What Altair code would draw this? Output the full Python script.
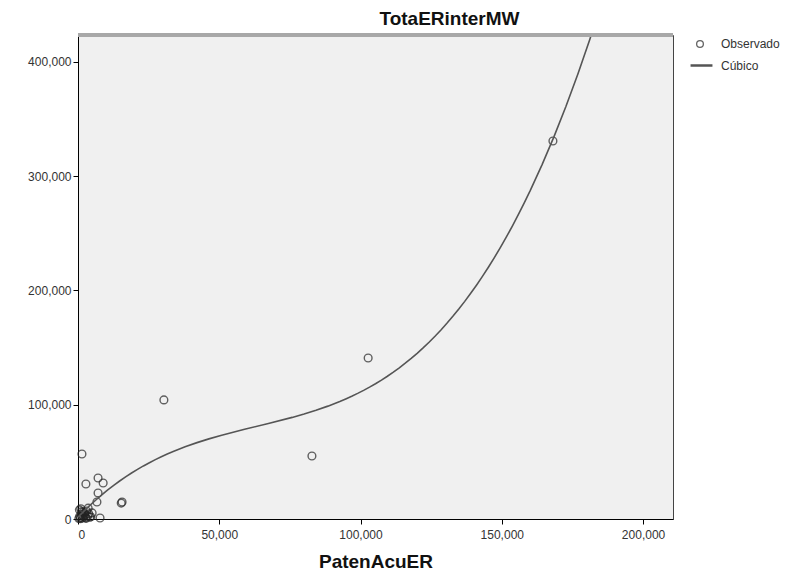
import altair as alt
import pandas as pd

# Observed values (PatenAcuER, TotaERinterMW)
pat_x = [168100, 102700, 82800, 30400, 1400, 15600, 15300, 2800, 7100, 8900,
         7100, 6700, 5000, 7800,
         300, 600, 900, 1200, 1500, 1800, 2100, 2400, 2700, 3000, 3400,
         3800, 4200, 500, 1000, 1600, 2200, 2900, 3600, 800, 1300, 4500]
tot_y = [330800, 140900, 55100, 104200, 56900, 14900, 13900, 30600, 35900, 31500,
         22800, 14900, 5300, 900,
         500, 2500, 1200, 4000, 800, 6000, 2000, 3500, 1000, 7000, 2500,
         4500, 1500, 8000, 9000, 3000, 5000, 600, 9500, 300, 6500, 2000]

df = pd.DataFrame({"x": pat_x, "y": tot_y})
df["serie"] = "Observado"

x_ticks = [0, 50000, 100000, 150000, 200000]
y_ticks = [0, 100000, 200000, 300000, 400000]
x_dom = [0, 210600]
y_dom = [0, 423600]

FONT = "Liberation Sans"

xs = alt.Scale(domain=x_dom, nice=False, zero=False)
ys = alt.Scale(domain=y_dom, nice=False, zero=False)

x_axis = alt.Axis(values=x_ticks, format=",.0f", title="PatenAcuER", grid=False,
                  domainColor="#000", tickColor="#000", tickSize=5,
                  labelFont=FONT, labelFontSize=12, labelColor="#333",
                  labelPadding=5, titleFont=FONT, titleFontSize=19,
                  titleFontWeight="bold", titleColor="#111", titlePadding=12)
y_axis = alt.Axis(values=y_ticks, format=",.0f", title=None, grid=False,
                  domainColor="#000", tickColor="#000", tickSize=5,
                  labelFont=FONT, labelFontSize=12, labelColor="#333",
                  labelPadding=2)

points = alt.Chart(df).mark_point(
    shape="circle", filled=False, size=60, strokeWidth=1.4, color="#222"
).encode(
    x=alt.X("x:Q", scale=xs, axis=x_axis),
    y=alt.Y("y:Q", scale=ys, axis=y_axis),
    shape=alt.Shape("serie:N", scale=alt.Scale(range=["circle"]),
                    legend=alt.Legend(title=None, orient="none", legendX=616,
                                      legendY=3, labelFont=FONT, labelFontSize=12,
                                      labelColor="#333", labelOffset=15,
                                      symbolStrokeColor="#222", symbolStrokeWidth=1.3,
                                      symbolFillColor="transparent", symbolSize=45)),
)

curve = alt.Chart(df).transform_regression(
    "x", "y", method="poly", order=3, extent=x_dom
).transform_calculate(
    serie="'Cúbico'"
).mark_line(color="#333", strokeWidth=1.6, clip=True).encode(
    x=alt.X("x:Q", scale=xs),
    y=alt.Y("y:Q", scale=ys),
    color=alt.Color("serie:N", scale=alt.Scale(range=["#555"]),
                    legend=alt.Legend(title=None, orient="none", legendX=611,
                                      legendY=18, labelFont=FONT, labelFontSize=12,
                                      labelColor="#333", labelOffset=7,
                                      symbolType="stroke",
                                      symbolStrokeWidth=2.5, symbolSize=480)),
)

top_line = alt.Chart(df).mark_rule(color="#a8a8a8", strokeWidth=3).encode(
    x=alt.value(0), x2=alt.value(595), y=alt.value(0)
)

chart = alt.layer(points, curve, top_line).resolve_scale(
    color="independent", shape="independent"
).properties(
    width=595, height=484,
    title=alt.TitleParams("TotaERinterMW", font=FONT, fontSize=19,
                          fontWeight="bold", color="#111", anchor="middle",
                          dx=74, offset=5),
    autosize=alt.AutoSizeParams(type="none"),
    padding={"left": 70, "top": 27, "right": 116, "bottom": 52},
).configure(background="white").configure_view(
    fill="#f0f0f0", stroke="#444", strokeWidth=1
)

chart.save("out.html", embed_options={"renderer": "svg", "actions": False})
